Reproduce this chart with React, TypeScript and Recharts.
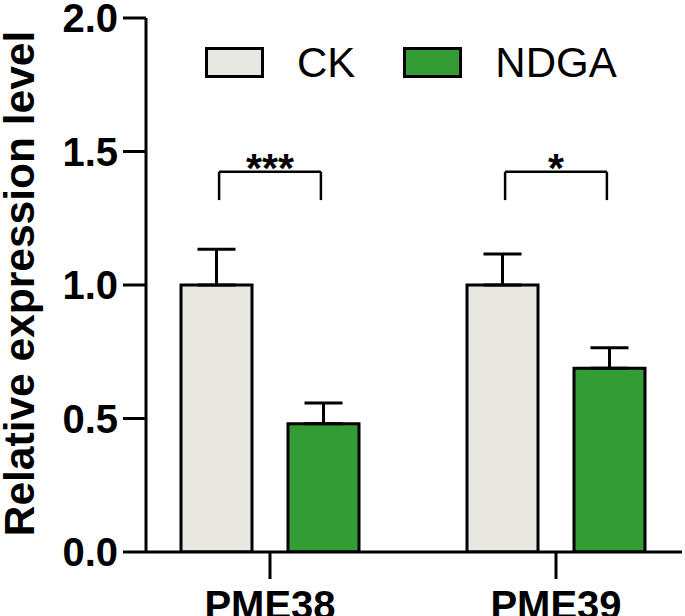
import React from "react";
import {Bar, ComposedChart, ErrorBar, Legend, ReferenceLine, XAxis, YAxis} from "recharts";

const categories = ["PME38", "PME39"];
const ckValues = [1.0, 1.0];
const ckErrors = [0.134, 0.116];
const ndgaValues = [0.48, 0.688];
const ndgaErrors = [0.078, 0.077];
const yTicks = [0, 0.5, 1.0, 1.5, 2.0];
const significance = ["***", "*"];
const bracketTop = 1.424;
const bracketLeg = 1.318;
const bracketHalf = 0.178;

const FONT = "'Liberation Sans', Arial, sans-serif";
const CK_FILL = "#e8e7e1";
const NDGA_FILL = "#339c34";

const chartData = categories.map((name, i) => ({
  name,
  pos: i,
  ck: ckValues[i],
  ckErr: [0, ckErrors[i]],
  ndga: ndgaValues[i],
  ndgaErr: [0, ndgaErrors[i]],
}));

const StarLabel = (text: string) => (props: any) => {
  const vb = props.viewBox || {};
  const cx = vb.x1 !== undefined ? (vb.x1 + vb.x2) / 2 : vb.x + (vb.width || 0) / 2;
  const y = vb.y1 !== undefined ? vb.y1 : vb.y;
  return (
      <text x={cx} y={y + 10} textAnchor="middle" fontSize={41} fontWeight="bold" fontFamily={FONT} fill="#000">
        {text}
      </text>
  );
};

const LegendContent = () => {
  const item = (label: string, fill: string, gapAfter: number) => (
      <div style={{display: "flex", alignItems: "center", marginRight: gapAfter}}>
        <div style={{width: 53, height: 25, background: fill, border: "3px solid #000", marginRight: 33}}/>
        <span style={{fontSize: 42, lineHeight: "42px", fontFamily: FONT, color: "#000"}}>{label}</span>
      </div>
  );
  return (
      <div style={{display: "flex", alignItems: "center", height: 31}}>
        {item("CK", CK_FILL, 48)}
        {item("NDGA", NDGA_FILL, 0)}
      </div>
  );
};

const YTitle = () => {
  return (
      <text x={34} y={283.5} transform="rotate(-90, 34, 283.5)" textAnchor="middle"
            fontSize={42.5} fontWeight="bold" fontFamily={FONT} fill="#000">
        Relative expression level
      </text>
  );
};

const App: React.FC = () => {
  return (
      <div style={{position: "absolute", left: 0, top: 0, background: "#fff"}}>
        <ComposedChart width={685} height={616} data={chartData}
                       margin={{top: 18, right: 3, bottom: 0, left: 0}}
                       barSize={71} barGap={36}>
          <XAxis dataKey="name" xAxisId="cat" height={64}
                 padding={{left: -19, right: -17}}
                 axisLine={{stroke: "#000", strokeWidth: 3}}
                 tickLine={{stroke: "#000", strokeWidth: 3}}
                 tickSize={27} tickMargin={12}
                 tick={{fill: "#000", fontSize: 40, fontWeight: "bold", fontFamily: FONT}}/>
          <XAxis xAxisId="ann" dataKey="pos" type="number" hide orientation="top" height={0}
                 domain={[-0.5, 1.5]} allowDataOverflow
                 padding={{left: -19, right: -17}}/>
          <YAxis width={146} domain={[0, 2]} ticks={yTicks} interval={0}
                 allowDataOverflow
                 tickFormatter={(v: number) => v.toFixed(1)}
                 axisLine={{stroke: "#000", strokeWidth: 3}}
                 tickLine={{stroke: "#000", strokeWidth: 3}}
                 tickSize={23} tickMargin={5}
                 tick={{fill: "#000", fontSize: 40, fontWeight: "bold", fontFamily: FONT}}
                 label={<YTitle/>}/>
          <Legend layout="horizontal" verticalAlign="middle" align="center"
                  content={<LegendContent/>}
                  wrapperStyle={{top: 47, left: 205, width: 480, height: 31}}/>
          <Bar dataKey="ck" xAxisId="cat" fill={CK_FILL} stroke="#000" strokeWidth={3} isAnimationActive={false}>
            <ErrorBar dataKey="ckErr" direction="y" width={19} stroke="#000" strokeWidth={3} isAnimationActive={false}/>
          </Bar>
          <Bar dataKey="ndga" xAxisId="cat" fill={NDGA_FILL} stroke="#000" strokeWidth={3} isAnimationActive={false}>
            <ErrorBar dataKey="ndgaErr" direction="y" width={19} stroke="#000" strokeWidth={3} isAnimationActive={false}/>
          </Bar>
          {categories.map((c, i) => (
              <React.Fragment key={c}>
                <ReferenceLine xAxisId="ann" stroke="#000" strokeWidth={2.5} ifOverflow="visible"
                               segment={[{x: i - bracketHalf, y: bracketLeg}, {x: i - bracketHalf, y: bracketTop}]}/>
                <ReferenceLine xAxisId="ann" stroke="#000" strokeWidth={2.5} ifOverflow="visible"
                               segment={[{x: i + bracketHalf, y: bracketLeg}, {x: i + bracketHalf, y: bracketTop}]}/>
                <ReferenceLine xAxisId="ann" stroke="#000" strokeWidth={2.5} ifOverflow="visible"
                               segment={[{x: i - bracketHalf, y: bracketTop}, {x: i + bracketHalf, y: bracketTop}]}
                               label={StarLabel(significance[i])}/>
              </React.Fragment>
          ))}
        </ComposedChart>
      </div>
  );
};

export default App;
